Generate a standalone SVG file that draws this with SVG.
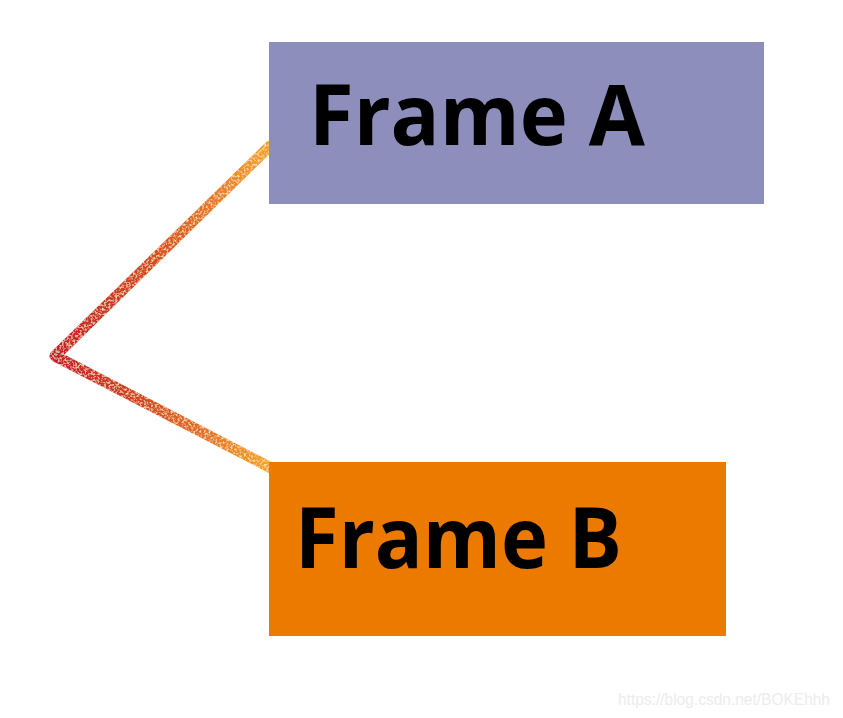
<svg xmlns="http://www.w3.org/2000/svg" width="843" height="718" viewBox="0 0 843 718">
  <style>
    .label { font-family: "Open Sans", "Noto Sans", "DejaVu Sans", sans-serif; font-weight: 700; font-size: 84px; fill: #000; }
    .wm { font-family: "Liberation Sans", Arial, sans-serif; font-size: 16px; fill: #ececec; }
  </style>
  <defs>
    <linearGradient id="glow" gradientUnits="userSpaceOnUse" x1="53" y1="0" x2="272" y2="0">
      <stop offset="0" stop-color="#c41a30"/>
      <stop offset="0.45" stop-color="#d64a1e"/>
      <stop offset="1" stop-color="#f6a623"/>
    </linearGradient>
    <filter id="glitter" x="-5%" y="-5%" width="110%" height="110%">
      <feTurbulence type="fractalNoise" baseFrequency="0.45" numOctaves="2" seed="3" result="noise"/>
      <feColorMatrix in="noise" type="matrix" values="0 0 0 0 1  0 0 0 0 0.85  0 0 0 0 0.55  0 0 0 2.4 -1.1" result="spots"/>
      <feComposite in="spots" in2="SourceGraphic" operator="in" result="clipped"/>
      <feMerge>
        <feMergeNode in="SourceGraphic"/>
        <feMergeNode in="clipped"/>
      </feMerge>
    </filter>
  </defs>
  <rect width="843" height="718" fill="#ffffff"/>
  <g id="connectors">
    <polyline points="270,146 55,356 275,470" fill="none" stroke="url(#glow)" stroke-width="11" stroke-linecap="round" stroke-linejoin="round" filter="url(#glitter)"/>
  </g>
  <g id="frameA">
    <rect x="269" y="42" width="495" height="162" fill="#8e8ebd"/>
    <text class="label" x="309" y="145" textLength="336" lengthAdjust="spacingAndGlyphs">Frame A</text>
  </g>
  <g id="frameB">
    <rect x="269" y="462" width="457" height="174" fill="#ec7a00"/>
    <text class="label" x="295" y="568" textLength="327" lengthAdjust="spacingAndGlyphs">Frame B</text>
  </g>
  <text class="wm" x="618" y="705" textLength="212" lengthAdjust="spacingAndGlyphs">https://blog.csdn.net/BOKEhhh</text>
</svg>
